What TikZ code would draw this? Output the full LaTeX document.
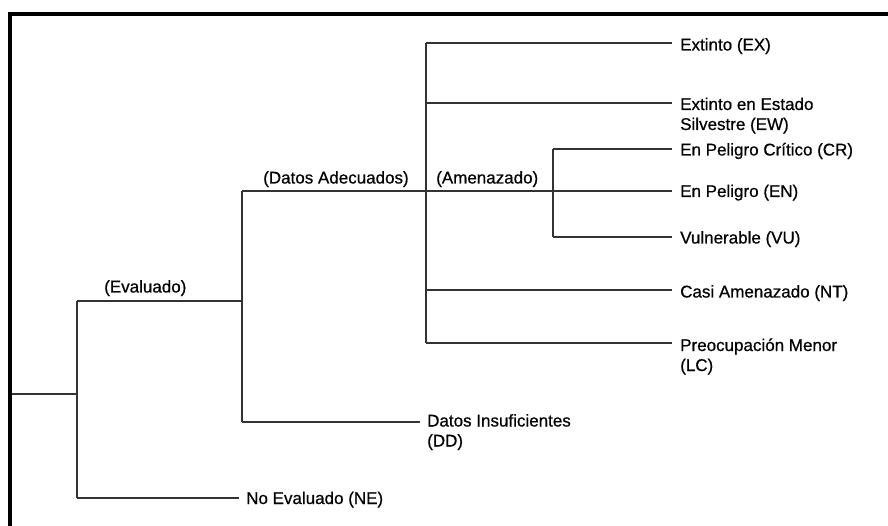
\documentclass[tikz,border=0pt]{standalone}
\usepackage{fontspec}
\setmainfont{Liberation Sans}
\newfontfamily\lblfont[FakeBold=0.6]{Liberation Sans}
\begin{document}
\begin{tikzpicture}[x=1pt,y=-1pt,
  lbl/.style={anchor=base west, inner sep=0pt, font=\lblfont\fontsize{17}{20}\selectfont, align=left, text=black},
  conn/.style={draw=black!80, line width=1.3pt},
  frame/.style={draw=black, line width=4.2pt}]
\useasboundingbox (0,0) rectangle (888,526);
\draw[frame] (10.3,526) -- (10.3,14.3) -- (888,14.3);

% junctions
\coordinate (root) at (12.4,394);
\coordinate (j1)  at (77,394);
\coordinate (j1t) at (77,301);
\coordinate (j1b) at (77,498);
\coordinate (j2t) at (242,191);
\coordinate (j2m) at (242,301);
\coordinate (j2b) at (242,422);
\coordinate (j3t) at (426,43);
\coordinate (j3w) at (426,103);
\coordinate (j3m) at (426,191);
\coordinate (j3n) at (426,290);
\coordinate (j3b) at (426,343);
\coordinate (j4t) at (553,149);
\coordinate (j4m) at (553,191);
\coordinate (j4b) at (553,237);

% labels (multi-line nodes are placed by the baseline of their last line)
\node[lbl] (ex) at (680,50.5) {Extinto (EX)};
\node[lbl] (ew) at (680,130) {Extinto en Estado\\Silvestre (EW)};
\node[lbl] (cr) at (680,155.5) {En Peligro Crítico (CR)};
\node[lbl] (en) at (680,197) {En Peligro (EN)};
\node[lbl] (vu) at (680,243.5) {Vulnerable (VU)};
\node[lbl] (nt) at (680,297.5) {Casi Amenazado (NT)};
\node[lbl] (lc) at (680,371) {Preocupación Menor\\(LC)};
\node[lbl] (dd) at (427,446.5) {Datos Insuficientes\\(DD)};
\node[lbl] (ne) at (246,504) {No Evaluado (NE)};
\node[lbl] (evaluado) at (104,292.5) {(Evaluado)};
\node[lbl] (adecuados) at (263,183.5) {(Datos Adecuados)};
\node[lbl] (amenazado) at (436,183.5) {(Amenazado)};

% connectors
\draw[conn] (root) -- (j1);
\draw[conn] (j1t) -- (j1b);
\draw[conn] (j1t) -- (j2m);
\draw[conn] (j1b) -- ([xshift=-7pt]ne.west |- j1b);
\draw[conn] (j2t) -- (j2b);
\draw[conn] (j2b) -- ([xshift=-7pt]dd.west |- j2b);
\draw[conn] (j2t) -- ([xshift=-8pt]en.west |- j2t);
\draw[conn] (j3t) -- (j3b);
\draw[conn] (j3t) -- ([xshift=-8pt]ex.west |- j3t);
\draw[conn] (j3w) -- ([xshift=-8pt]ew.west |- j3w);
\draw[conn] (j3n) -- ([xshift=-8pt]nt.west |- j3n);
\draw[conn] (j3b) -- ([xshift=-8pt]lc.west |- j3b);
\draw[conn] (j4t) -- (j4b);
\draw[conn] (j4t) -- ([xshift=-8pt]cr.west |- j4t);
\draw[conn] (j4b) -- ([xshift=-8pt]vu.west |- j4b);
\end{tikzpicture}
\end{document}
